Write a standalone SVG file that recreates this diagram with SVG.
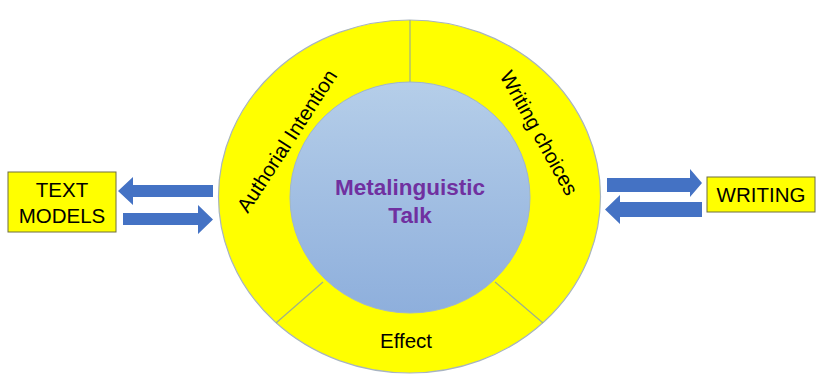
<svg xmlns="http://www.w3.org/2000/svg" width="830" height="390" viewBox="0 0 830 390">
<defs>
<linearGradient id="blue" x1="0" y1="0" x2="0" y2="1">
<stop offset="0" stop-color="#B5CEE9"/>
<stop offset="1" stop-color="#8EAFDC"/>
</linearGradient>
<style>
.lbl{font-family:"Liberation Sans",Arial,sans-serif;font-size:20.5px;fill:#000;text-anchor:middle}
.box{fill:#FFFF00;stroke:#6E6E40;stroke-width:1}
.arrow{fill:#4472C4}
.div{stroke:#9DB08C;stroke-width:1.2;fill:none}
.title{font-family:"Liberation Sans",Arial,sans-serif;font-size:22.5px;font-weight:bold;fill:#7030A0;text-anchor:middle}
</style>
</defs>
<rect width="830" height="390" fill="#fff"/>
<g id="ring">
<ellipse cx="409.500" cy="196.500" rx="191" ry="176.500" fill="#FFFF00" stroke="#A8B4C0" stroke-width="1.2"/>
<line class="div" x1="410" y1="20" x2="410" y2="82"/>
<line class="div" x1="323" y1="282" x2="276" y2="323"/>
<line class="div" x1="495" y1="282" x2="543" y2="323"/>
<text class="lbl" transform="translate(287,141) rotate(-57)" dy="7">Authorial Intention</text>
<text class="lbl" transform="translate(539,133) rotate(61)" dy="7">Writing choices</text>
<text class="lbl" x="406" y="348">Effect</text>
</g>
<g id="center">
<ellipse cx="410" cy="197.500" rx="120" ry="115.500" fill="url(#blue)" stroke="#9FB5CF" stroke-width="1"/>
<text class="title" x="410" y="195">Metalinguistic</text>
<text class="title" x="410" y="223">Talk</text>
</g>
<g id="text-models">
<rect class="box" x="8" y="172" width="108" height="60"/>
<text class="lbl" x="62" y="197">TEXT</text>
<text class="lbl" x="62" y="223">MODELS</text>
</g>
<g id="writing">
<rect class="box" x="707" y="177" width="108" height="35"/>
<text class="lbl" x="761" y="202">WRITING</text>
</g>
<g id="connectors">
<polygon class="arrow" points="213,185 133,185 133,177 118,191 133,205 133,197 213,197"/>
<polygon class="arrow" points="123,213 198,213 198,205 213,219.500 198,234 198,225 123,225"/>
<polygon class="arrow" points="607,178 690,178 690,169 702,183 690,197 690,192 607,192"/>
<polygon class="arrow" points="702,202 620,202 620,195 605,209.500 620,224 620,217 702,217"/>
</g>
</svg>
